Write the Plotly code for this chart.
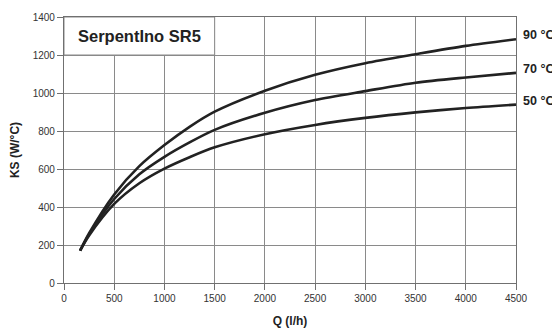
import plotly.graph_objects as go

q = [160, 250, 500, 750, 1000, 1250, 1500, 2000, 2500, 3000, 3500, 4000, 4500]
ks_90 = [170, 262, 466, 615, 726, 822, 902, 1012, 1096, 1157, 1204, 1248, 1283]
ks_70 = [170, 256, 442, 572, 664, 740, 806, 896, 963, 1010, 1054, 1082, 1106]
ks_50 = [170, 250, 416, 525, 602, 662, 714, 783, 832, 869, 898, 921, 939]
series = [("90 °C", ks_90), ("70 °C", ks_70), ("50 °C", ks_50)]

x_ticks = [0, 500, 1000, 1500, 2000, 2500, 3000, 3500, 4000, 4500]
y_ticks = [0, 200, 400, 600, 800, 1000, 1200, 1400]
title_text = "SerpentIno SR5"

fig = go.Figure()
for name, vals in series:
    fig.add_trace(go.Scatter(x=q, y=vals, mode="lines", name=name,
                             line=dict(color="#222222", width=2.6, shape="spline", smoothing=0.8),
                             showlegend=False, hoverinfo="skip", cliponaxis=False))
    fig.add_annotation(x=1, xref="paper", y=vals[-1], yref="y", text=f"<b>{name}</b>",
                       xanchor="left", yanchor="middle", xshift=5, yshift=4, showarrow=False,
                       font=dict(family="Liberation Sans, Arial", size=12.5, color="#222222"))

# title box
fig.add_shape(type="rect", xref="x", yref="y", x0=0, x1=1500, y0=1200, y1=1400,
              fillcolor="white", line=dict(color="#888888", width=1), layer="between")
fig.add_annotation(x=750, y=1300, xref="x", yref="y", text=f"<b>{title_text}</b>",
                   showarrow=False, font=dict(family="Liberation Sans, Arial", size=16.5, color="#222222"))

axis_common = dict(showgrid=True, gridcolor="#8a8a8a", gridwidth=1.2, showline=True,
                   linecolor="#707070", linewidth=1.2, mirror=True, ticks="outside",
                   ticklen=6, tickcolor="#707070", zeroline=False, automargin=False,
                   tickfont=dict(family="Liberation Sans, Arial", size=10, color="#333333"))

fig.update_xaxes(range=[0, 4500], tickvals=x_ticks, **axis_common,
                 title=dict(text="<b>Q (l/h)</b>", standoff=13,
                            font=dict(family="Liberation Sans, Arial", size=12, color="#222222")))
fig.update_yaxes(range=[0, 1400], tickvals=y_ticks, **axis_common,
                 title=dict(text="<b>KS (W/°C)</b>", standoff=11,
                            font=dict(family="Liberation Sans, Arial", size=12, color="#222222")))

# page body has an 8px default margin, so the figure is sized/offset to compensate
fig.update_layout(width=552, height=321, margin=dict(l=56, r=44, t=9, b=46),
                  plot_bgcolor="white", paper_bgcolor="white")
fig.write_html("out.html")
